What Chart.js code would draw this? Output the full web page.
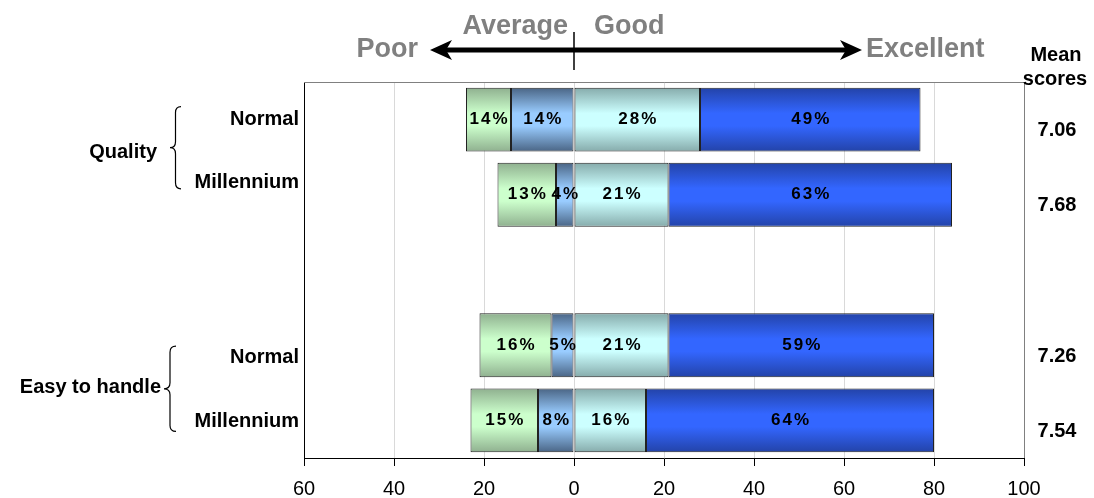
<!DOCTYPE html>
<html>
<head>
<meta charset="utf-8">
<script src="https://cdn.jsdelivr.net/npm/chart.js@4"></script>
<style>
  html, body { margin: 0; padding: 0; background: #fff; }
  #wrap { width: 1094px; height: 498px; }
</style>
</head>
<body>
<div id="wrap"><canvas id="chart"></canvas></div>
<script>
// rows (third row is an empty spacer between the two groups)
const categories = ['Normal', 'Millennium', '', 'Normal', 'Millennium'];

// bar lengths as drawn
const poor      = [10, 13, null, 16, 15];
const average   = [14, 4, null, 5, 8];
const good      = [28, 21, null, 21, 16];
const excellent = [49, 63, null, 59, 64];

// texts printed on the bars
const poorLabels      = ['14%', '13%', '', '16%', '15%'];
const averageLabels   = ['14%', '4%', '', '5%', '8%'];
const goodLabels      = ['28%', '21%', '', '21%', '16%'];
const excellentLabels = ['49%', '63%', '', '59%', '64%'];

const meanScores = ['7.06', '7.68', '', '7.26', '7.54'];
const xTicks = [-60, -40, -20, 0, 20, 40, 60, 80, 100];

const FONT = '"Liberation Sans", Arial, sans-serif';
// the row names sit a little off the bar centres in the original
const rowLabelShift = [0, -12, 0, 12, 1];

function shade(dark, light) {
  return function (c) {
    const chart = c.chart;
    const ys = chart.scales.y;
    if (!ys || !chart.chartArea) return light;
    const mid = ys.getPixelForValue(c.dataIndex);
    const h = (ys.height / categories.length) * 0.85;
    const g = chart.ctx.createLinearGradient(0, mid - h / 2, 0, mid + h / 2);
    g.addColorStop(0, dark);
    g.addColorStop(0.4, light);
    g.addColorStop(0.6, light);
    g.addColorStop(1, dark);
    return g;
  };
}

const ds = (label, values, sign, dark, light, texts) => ({
  label: label,
  data: values.map(v => v === null ? null : sign * v),
  texts: texts,
  backgroundColor: shade(dark, light),
  borderColor: '#222',
  borderWidth: 1,
  borderSkipped: false,
  stack: 's'
});

const frame = {
  id: 'frame',
  beforeDatasetsDraw(chart) {
    const { ctx, chartArea: a } = chart;
    ctx.save();
    ctx.strokeStyle = '#808080';
    ctx.lineWidth = 1;
    ctx.beginPath();
    ctx.moveTo(a.left, a.top + 0.5);
    ctx.lineTo(a.right + 0.5, a.top + 0.5);
    ctx.lineTo(a.right + 0.5, a.bottom);
    ctx.stroke();
    ctx.restore();
  }
};

function brace(ctx, x, top, bottom, w) {
  const mid = (top + bottom) / 2, r = 6, xm = x - w / 2;
  ctx.beginPath();
  ctx.moveTo(x, top);
  ctx.quadraticCurveTo(xm, top, xm, top + r);
  ctx.lineTo(xm, mid - r);
  ctx.quadraticCurveTo(xm, mid, x - w, mid);
  ctx.quadraticCurveTo(xm, mid, xm, mid + r);
  ctx.lineTo(xm, bottom - r);
  ctx.quadraticCurveTo(xm, bottom, x, bottom);
  ctx.stroke();
}

const extras = {
  id: 'extras',
  afterDatasetsDraw(chart) {
    const { ctx } = chart;
    const xs = chart.scales.x, ys = chart.scales.y;
    ctx.save();

    // percentages on the bars
    ctx.font = 'bold 17px ' + FONT;
    ctx.fillStyle = '#000';
    ctx.textAlign = 'center';
    ctx.textBaseline = 'middle';
    if ('letterSpacing' in ctx) ctx.letterSpacing = '2px';
    chart.data.datasets.forEach((d, i) => {
      chart.getDatasetMeta(i).data.forEach((bar, j) => {
        const t = d.texts[j];
        if (!t || d.data[j] === null) return;
        ctx.fillText(t, (bar.x + bar.base) / 2 + 1, bar.y);
      });
    });
    if ('letterSpacing' in ctx) ctx.letterSpacing = '0px';

    // header: Poor <----|----> Excellent
    const z = xs.getPixelForValue(0);
    ctx.fillStyle = '#808080';
    ctx.font = 'bold 27px ' + FONT;
    ctx.textAlign = 'right';
    ctx.fillText('Poor', z - 156, 50);
    ctx.fillText('Average', z - 6, 27);
    ctx.textAlign = 'left';
    ctx.fillText('Good', z + 20, 27);
    ctx.fillText('Excellent', z + 292, 50);

    const x1 = xs.getPixelForValue(-32), x2 = xs.getPixelForValue(64);
    ctx.strokeStyle = '#000';
    ctx.fillStyle = '#000';
    ctx.lineWidth = 5;
    ctx.beginPath();
    ctx.moveTo(x1 + 15, 50);
    ctx.lineTo(x2 - 15, 50);
    ctx.stroke();
    ctx.beginPath();
    ctx.moveTo(x1, 50); ctx.lineTo(x1 + 22, 40); ctx.lineTo(x1 + 16, 50); ctx.lineTo(x1 + 22, 60);
    ctx.closePath(); ctx.fill();
    ctx.beginPath();
    ctx.moveTo(x2, 50); ctx.lineTo(x2 - 22, 40); ctx.lineTo(x2 - 16, 50); ctx.lineTo(x2 - 22, 60);
    ctx.closePath(); ctx.fill();
    ctx.lineWidth = 1.5;
    ctx.beginPath();
    ctx.moveTo(z, 32);
    ctx.lineTo(z, 70);
    ctx.stroke();

    // row names
    ctx.fillStyle = '#000';
    ctx.font = 'bold 20px ' + FONT;
    ctx.textAlign = 'right';
    categories.forEach((c, j) => {
      if (c) ctx.fillText(c, ys.left + ys.width - 5, ys.getPixelForValue(j) + rowLabelShift[j]);
    });

    // group labels with braces
    ctx.lineWidth = 1.2;
    const q0 = ys.getPixelForValue(0), q1 = ys.getPixelForValue(1);
    brace(ctx, 181, q0 - 13, q1 - 6, 11);
    ctx.fillText('Quality', 157, (q0 + q1) / 2 - 5);
    const e0 = ys.getPixelForValue(3), e1 = ys.getPixelForValue(4);
    brace(ctx, 176, e0 + 1, e1 + 11, 12);
    ctx.fillText('Easy to handle', 161, (e0 + e1) / 2 + 5);

    // mean scores column
    ctx.textAlign = 'center';
    ctx.fillText('Mean', 1056, 55);
    ctx.fillText('scores', 1055, 79);
    meanScores.forEach((m, j) => {
      if (m) ctx.fillText(m, 1057, ys.getPixelForValue(j) + 11);
    });
    ctx.restore();
  }
};

new Chart(document.getElementById('chart'), {
  type: 'bar',
  data: {
    labels: categories,
    datasets: [
      ds('Average', average, -1, '#4a6585', '#99ccff', averageLabels),
      ds('Poor', poor, -1, '#8fb08f', '#ccffcc', poorLabels),
      ds('Good', good, 1, '#86abab', '#ccffff', goodLabels),
      ds('Excellent', excellent, 1, '#2343a8', '#3366ff', excellentLabels)
    ]
  },
  options: {
    indexAxis: 'y',
    responsive: true,
    maintainAspectRatio: false,
    animation: false,
    layout: { padding: { top: 82, right: 70, left: 0, bottom: 0 } },
    datasets: { bar: { categoryPercentage: 1, barPercentage: 0.85 } },
    plugins: {
      legend: { display: false },
      tooltip: { enabled: false }
    },
    scales: {
      x: {
        stacked: true,
        min: -60,
        max: 100,
        afterBuildTicks: s => { s.ticks = xTicks.map(v => ({ value: v })); },
        afterFit: s => { s.height = 40; },
        ticks: {
          callback: v => Math.abs(v),
          color: '#000',
          font: { family: FONT, size: 20 },
          padding: 11,
          maxRotation: 0
        },
        grid: { color: '#d9d9d9', tickColor: '#000', tickLength: 8 },
        border: { color: '#000', width: 1 }
      },
      y: {
        stacked: true,
        afterFit: s => { s.width = 304; },
        ticks: { display: false },
        grid: { display: false },
        border: { color: '#000', width: 1 }
      }
    }
  },
  plugins: [frame, extras]
});
</script>
</body>
</html>
